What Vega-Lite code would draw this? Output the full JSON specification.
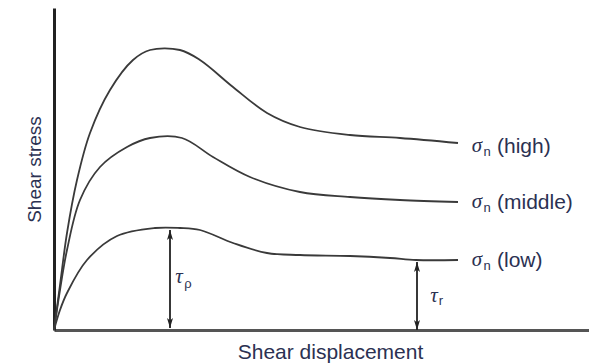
{
  "$schema": "https://vega.github.io/schema/vega-lite/v6.json",
  "width": 535,
  "height": 322,
  "autosize": "none",
  "padding": {"left": 54, "top": 8, "right": 0, "bottom": 34},
  "background": "white",
  "config": {
    "view": {"stroke": null},
    "font": "Liberation Sans"
  },
  "datasets": {
    "curves": [
      {"series": "high", "d": 0, "s": 0},
      {"series": "high", "d": 6, "s": 45},
      {"series": "high", "d": 13, "s": 97},
      {"series": "high", "d": 23, "s": 150},
      {"series": "high", "d": 36, "s": 197},
      {"series": "high", "d": 56, "s": 240},
      {"series": "high", "d": 79, "s": 270},
      {"series": "high", "d": 96, "s": 280},
      {"series": "high", "d": 126, "s": 280},
      {"series": "high", "d": 146, "s": 270},
      {"series": "high", "d": 179, "s": 243},
      {"series": "high", "d": 213, "s": 217},
      {"series": "high", "d": 246, "s": 203},
      {"series": "high", "d": 296, "s": 195},
      {"series": "high", "d": 346, "s": 192},
      {"series": "high", "d": 404, "s": 187},
      {"series": "middle", "d": 0, "s": 0},
      {"series": "middle", "d": 6, "s": 40},
      {"series": "middle", "d": 13, "s": 80},
      {"series": "middle", "d": 26, "s": 130},
      {"series": "middle", "d": 46, "s": 163},
      {"series": "middle", "d": 73, "s": 183},
      {"series": "middle", "d": 96, "s": 192},
      {"series": "middle", "d": 128, "s": 192},
      {"series": "middle", "d": 159, "s": 173},
      {"series": "middle", "d": 196, "s": 153},
      {"series": "middle", "d": 246, "s": 138},
      {"series": "middle", "d": 296, "s": 133},
      {"series": "middle", "d": 346, "s": 130},
      {"series": "middle", "d": 404, "s": 128},
      {"series": "low", "d": 0, "s": 0},
      {"series": "low", "d": 6, "s": 20},
      {"series": "low", "d": 13, "s": 37},
      {"series": "low", "d": 33, "s": 70},
      {"series": "low", "d": 63, "s": 94},
      {"series": "low", "d": 101, "s": 102},
      {"series": "low", "d": 126, "s": 102},
      {"series": "low", "d": 146, "s": 100},
      {"series": "low", "d": 179, "s": 87},
      {"series": "low", "d": 213, "s": 77},
      {"series": "low", "d": 246, "s": 75},
      {"series": "low", "d": 296, "s": 74},
      {"series": "low", "d": 336, "s": 72},
      {"series": "low", "d": 362, "s": 70},
      {"series": "low", "d": 404, "s": 70}
    ],
    "arrows": [
      {"name": "peak", "d": 116, "top": 100, "bottom": 2},
      {"name": "residual", "d": 363, "top": 68, "bottom": 0}
    ],
    "heads": [
      {"d": 116, "s": 95, "dir": "up"},
      {"d": 116, "s": 7, "dir": "down"},
      {"d": 363, "s": 63, "dir": "up"},
      {"d": 363, "s": 5, "dir": "down"}
    ],
    "sigma": [
      {"d": 423, "s": 184, "t": "σ"},
      {"d": 423, "s": 128, "t": "σ"},
      {"d": 423, "s": 70, "t": "σ"},
      {"d": 125, "s": 53, "t": "τ"},
      {"d": 380, "s": 34, "t": "τ"}
    ],
    "subs": [
      {"d": 433, "s": 178, "t": "n"},
      {"d": 433, "s": 122, "t": "n"},
      {"d": 433, "s": 64, "t": "n"},
      {"d": 134, "s": 46, "t": "ρ"},
      {"d": 387, "s": 29, "t": "r"}
    ],
    "labels": [
      {"d": 443, "s": 183, "t": "(high)"},
      {"d": 443, "s": 127, "t": "(middle)"},
      {"d": 443, "s": 69, "t": "(low)"}
    ]
  },
  "layer": [
    {
      "data": {"name": "curves"},
      "mark": {"type": "line", "interpolate": "catmull-rom", "color": "#3a3a3a", "strokeWidth": 1.8},
      "encoding": {
        "x": {
          "field": "d", "type": "quantitative",
          "scale": {"domain": [0, 535], "nice": false, "zero": false},
          "axis": {
            "title": "Shear displacement",
            "domain": true, "domainColor": "#555555", "domainWidth": 3,
            "ticks": false, "labels": false, "grid": false,
            "titleFont": "Liberation Sans", "titleFontSize": 21, "titleFontWeight": "normal",
            "titleColor": "#2b3152",
            "titleX": 276, "titleY": 28, "titleBaseline": "alphabetic", "titleAlign": "center"
          }
        },
        "y": {
          "field": "s", "type": "quantitative",
          "scale": {"domain": [0, 322], "nice": false, "zero": false},
          "axis": {
            "title": "Shear stress",
            "domain": true, "domainColor": "#222222", "domainWidth": 3,
            "ticks": false, "labels": false, "grid": false,
            "titleFont": "Liberation Sans", "titleFontSize": 19, "titleFontWeight": "normal",
            "titleColor": "#2b3152",
            "titleX": -14, "titleY": 161, "titleBaseline": "alphabetic", "titleAlign": "center", "titleAngle": -90
          }
        },
        "detail": {"field": "series"}
      }
    },
    {
      "data": {"name": "arrows"},
      "mark": {"type": "rule", "color": "#222222", "strokeWidth": 1.8},
      "encoding": {
        "x": {"field": "d", "type": "quantitative"},
        "y": {"field": "top", "type": "quantitative"},
        "y2": {"field": "bottom"}
      }
    },
    {
      "data": {"name": "heads"},
      "mark": {"type": "point", "filled": true, "color": "#222222", "opacity": 1, "size": 100},
      "encoding": {
        "x": {"field": "d", "type": "quantitative"},
        "y": {"field": "s", "type": "quantitative"},
        "shape": {
          "field": "dir", "type": "nominal",
          "scale": {"domain": ["up", "down"], "range": ["M0,-1L0.6,1L0,0.5L-0.6,1Z", "M0,1L0.6,-1L0,-0.5L-0.6,-1Z"]},
          "legend": null
        }
      }
    },
    {
      "data": {"name": "sigma"},
      "mark": {"type": "text", "font": "Liberation Serif", "fontStyle": "italic", "fontSize": 21, "color": "#2b3152", "align": "center", "baseline": "middle"},
      "encoding": {
        "x": {"field": "d", "type": "quantitative"},
        "y": {"field": "s", "type": "quantitative"},
        "text": {"field": "t"}
      }
    },
    {
      "data": {"name": "subs"},
      "mark": {"type": "text", "font": "Liberation Sans", "fontSize": 13, "color": "#2b3152", "align": "center", "baseline": "middle"},
      "encoding": {
        "x": {"field": "d", "type": "quantitative"},
        "y": {"field": "s", "type": "quantitative"},
        "text": {"field": "t"}
      }
    },
    {
      "data": {"name": "labels"},
      "mark": {"type": "text", "font": "Liberation Sans", "fontSize": 21, "color": "#2b3152", "align": "left", "baseline": "middle"},
      "encoding": {
        "x": {"field": "d", "type": "quantitative"},
        "y": {"field": "s", "type": "quantitative"},
        "text": {"field": "t"}
      }
    }
  ]
}
